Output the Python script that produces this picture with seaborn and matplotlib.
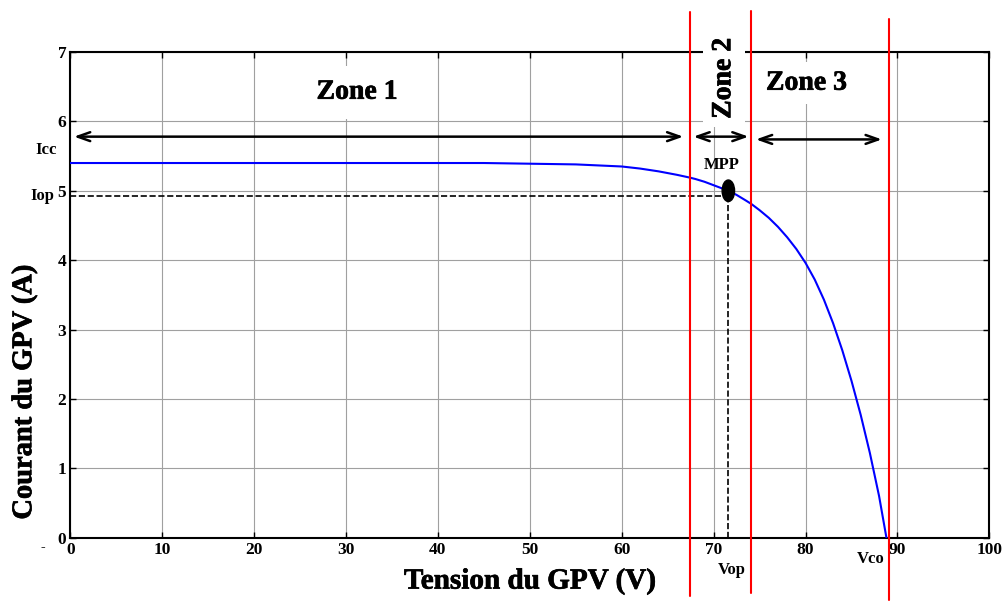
import matplotlib
matplotlib.use("Agg")
import matplotlib.pyplot as plt
import matplotlib.patheffects as pe
from matplotlib.patches import Ellipse
import pandas as pd
import seaborn as sns

# I-V curve of the PV generator
tension = [0, 10, 20, 30, 40, 45, 50, 55, 60, 62, 64, 66, 67.4, 68, 69, 70, 71,
           71.6, 72.5, 73.5, 74.1, 75, 76, 77, 78, 79, 80, 81, 82, 83, 84, 85,
           86, 87, 88, 88.8]
courant = [5.40, 5.40, 5.40, 5.40, 5.40, 5.40, 5.39, 5.38, 5.35, 5.32, 5.28, 5.23,
           5.19, 5.17, 5.13, 5.08, 5.03, 5.00, 4.94, 4.86, 4.81, 4.72, 4.61, 4.48,
           4.33, 4.16, 3.96, 3.72, 3.43, 3.09, 2.70, 2.26, 1.77, 1.22, 0.60, 0.0]

zone_limits = [67.4, 74.1, 89.1]
zone_names = ["Zone 1", "Zone 2", "Zone 3"]
zone_arrows = [(0.4, 66.7, 5.78), (67.8, 73.8, 5.78), (74.6, 88.3, 5.74)]
v_op, i_op = 71.6, 4.93
mpp = (71.6, 5.0)

x_ticks = list(range(0, 101, 10))
y_ticks = list(range(0, 8))

sns.set_style("whitegrid")
plt.rcParams["font.family"] = ["Liberation Serif", "DejaVu Serif"]
plt.rcParams["font.weight"] = "bold"
plt.rcParams["text.color"] = "black"
plt.rcParams["axes.labelcolor"] = "black"
plt.rcParams["xtick.color"] = "black"
plt.rcParams["ytick.color"] = "black"

df = pd.DataFrame({"Tension": tension, "Courant": courant})

fig = plt.figure(figsize=(10.03, 6.04), dpi=100)
ax = fig.add_axes([0.0701, 0.1098, 0.9163, 0.8041])

sns.lineplot(data=df, x="Tension", y="Courant", ax=ax, color="#0000ff", lw=1.5, zorder=4)

ax.set_xlim(0, 100)
ax.set_ylim(0, 7)
ax.set_xticks(x_ticks)
ax.set_yticks(y_ticks)
ax.grid(True, color="#a0a0a0", lw=0.8)
for s in ax.spines.values():
    s.set_visible(True)
    s.set_color("black")
    s.set_linewidth(1.5)
ax.tick_params(direction="in", length=4, width=1, color="black", labelsize=12.5,
               pad=3, top=True, right=True, bottom=True, left=True,
               labeltop=False, labelright=False)
for lab in ax.get_xticklabels() + ax.get_yticklabels():
    lab.set_fontweight("bold")

heavy = [pe.withStroke(linewidth=0.5, foreground="black")]
ax.set_xlabel("Tension du GPV (V)", fontsize=21, fontweight="bold", labelpad=7,
              path_effects=heavy)
ax.set_ylabel("Courant du GPV (A)", fontsize=20.5, fontweight="bold", path_effects=heavy)
ax.yaxis.set_label_coords(-0.036, 0.30)

# operating point dashed projections
ax.plot([0, v_op], [i_op, i_op], "k--", lw=1.2, zorder=3)
ax.plot([v_op, v_op], [0, i_op], "k--", lw=1.2, zorder=3)
ax.add_patch(Ellipse(mpp, 1.35, 0.31, color="black", zorder=6))
ax.text(70.9, 5.37, "MPP", ha="center", va="center", fontsize=12, fontweight="bold")

# zone limits (red lines running past the frame)
ax.plot([zone_limits[0]] * 2, [-0.84, 7.57], color="red", lw=1.5, clip_on=False, zorder=7)
ax.plot([zone_limits[1]] * 2, [-0.80, 7.59], color="red", lw=1.5, clip_on=False, zorder=7)
ax.plot([zone_limits[2]] * 2, [-0.90, 7.47], color="red", lw=1.5, clip_on=False, zorder=7)

for x0, x1, y in zone_arrows:
    ax.annotate("", xy=(x1, y), xytext=(x0, y),
                arrowprops=dict(arrowstyle="<->,head_length=0.9,head_width=0.32",
                                color="black", lw=1.8, shrinkA=0, shrinkB=0))

box = dict(facecolor="white", edgecolor="none", pad=6)
ax.text(31.2, 6.42, zone_names[0], ha="center", va="center", fontsize=20,
        fontweight="bold", bbox=dict(facecolor="white", edgecolor="none", pad=10),
        zorder=5, path_effects=heavy)
ax.text(71.1, 6.62, zone_names[1], ha="center", va="center", fontsize=20,
        fontweight="bold", rotation=90, bbox=box, clip_on=False, zorder=5,
        path_effects=heavy)
ax.text(80.1, 6.55, zone_names[2], ha="center", va="center", fontsize=20,
        fontweight="bold", bbox=box, zorder=5, path_effects=heavy)

ax.text(-2.64, 5.59, "Icc", ha="center", va="center", fontsize=12, fontweight="bold", clip_on=False)
ax.text(-3.05, 4.93, "Iop", ha="center", va="center", fontsize=12, fontweight="bold", clip_on=False)
ax.text(72.0, -0.46, "Vop", ha="center", va="center", fontsize=12, fontweight="bold", clip_on=False)
ax.text(87.1, -0.31, "Vco", ha="center", va="center", fontsize=12, fontweight="bold", clip_on=False)
ax.text(-2.95, -0.15, "-", ha="center", va="center", fontsize=10, clip_on=False)

fig.savefig("out.png", dpi=100)
